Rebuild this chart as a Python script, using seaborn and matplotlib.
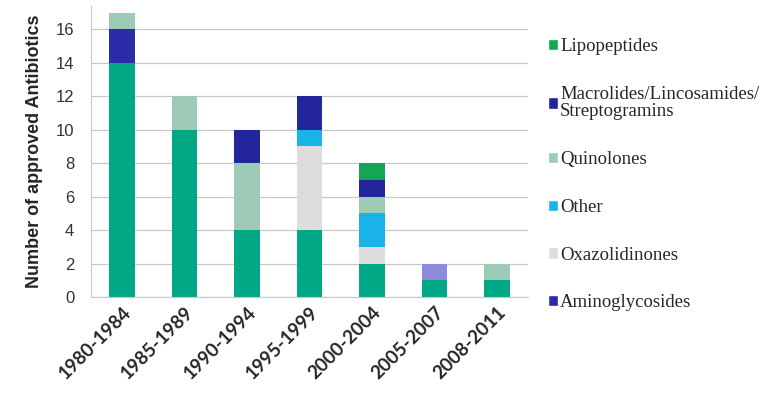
import pandas as pd
import matplotlib
matplotlib.use("Agg")
import matplotlib.pyplot as plt
from matplotlib.patches import Patch
import seaborn as sns

# periods on the x axis
periods = ["1980-1984", "1985-1989", "1990-1994", "1995-1999",
           "2000-2004", "2005-2007", "2008-2011"]

# counts per class
lipopeptides   = [0, 0, 0, 0, 1, 0, 0]
macrolides     = [0, 0, 2, 2, 1, 0, 0]
quinolones     = [1, 2, 4, 0, 1, 0, 1]
other          = [0, 0, 0, 1, 2, 0, 0]
oxazolidinones = [0, 0, 0, 5, 1, 0, 0]
aminoglycosides = [2, 0, 0, 0, 0, 0, 0]
unlisted_purple = [0, 0, 0, 0, 0, 1, 0]   # not in the visible legend
unlisted_teal  = [14, 10, 4, 4, 2, 1, 1]  # not in the visible legend

# top-of-stack first (seaborn stacks the last hue level at the bottom)
classes = ["Lipopeptides", "Macrolides/Lincosamides/\nStreptogramins",
           "Quinolones", "Other", "Oxazolidinones", "Aminoglycosides",
           "purple", "teal"]
values = [lipopeptides, macrolides, quinolones, other, oxazolidinones,
          aminoglycosides, unlisted_purple, unlisted_teal]
colors = ["#13A655", "#23259A", "#9DCBB5", "#19B3E8", "#DDDDDD",
          "#2B2DA8", "#8D8CDB", "#00A886"]

rows = []
for cls, vals in zip(classes, values):
    for p, v in zip(periods, vals):
        rows.append({"period": p, "class": cls, "count": v})
df = pd.DataFrame(rows)

sns.set_style("white")
fig = plt.figure(figsize=(7.71, 3.94), dpi=100)
ax = fig.add_axes([0.118, 0.246, 0.567, 0.739])

sns.histplot(data=df, x="period", weights="count", hue="class",
             hue_order=classes, palette=dict(zip(classes, colors)),
             multiple="stack", shrink=0.41, discrete=True,
             linewidth=0, alpha=1, legend=False, ax=ax)

ax.set_xlim(-0.5, len(periods) - 0.5)
ax.set_ylim(0, 17.4)
ax.set_yticks(range(0, 17, 2))
ax.yaxis.grid(True, color="#c8c8c8", linewidth=0.9)
ax.set_axisbelow(True)
for s in ["top", "right"]:
    ax.spines[s].set_visible(False)
for s in ["left", "bottom"]:
    ax.spines[s].set_color("#c8c8c8")

ax.set_xticks(range(len(periods)))
ax.set_xticklabels(periods, rotation=45, ha="right", rotation_mode="anchor",
                   fontsize=13.5, fontweight="bold", family="Lato")
ax.set_xticks([i + 0.5 for i in range(-1, len(periods))], minor=True)
ax.tick_params(axis="x", which="major", length=0, pad=5)
ax.tick_params(axis="x", which="minor", length=4, color="#c8c8c8")
ax.tick_params(axis="y", length=5, color="#c8c8c8", pad=7, labelsize=12,
               labelcolor="#333333")
for lab in ax.get_yticklabels():
    lab.set_family("Liberation Sans")

ax.set_xlabel("")
ax.set_ylabel("Number of approved Antibiotics", fontsize=13,
              fontweight="bold", family="Liberation Sans", labelpad=9)

handles = [Patch(facecolor=c, label=n) for n, c in zip(classes[:6], colors[:6])]
leg = fig.legend(handles=handles, loc="upper left",
                 bbox_to_anchor=(548 / 771, 1 - 38 / 394),
                 frameon=False, borderaxespad=0, borderpad=0,
                 handlelength=0.55, handleheight=0.55,
                 handletextpad=0.1, labelspacing=1.64,
                 prop={"family": "Liberation Serif", "size": 13.5})
for t in leg.get_texts():
    t.set_linespacing(1.05)

fig.savefig("out.png", dpi=100)
